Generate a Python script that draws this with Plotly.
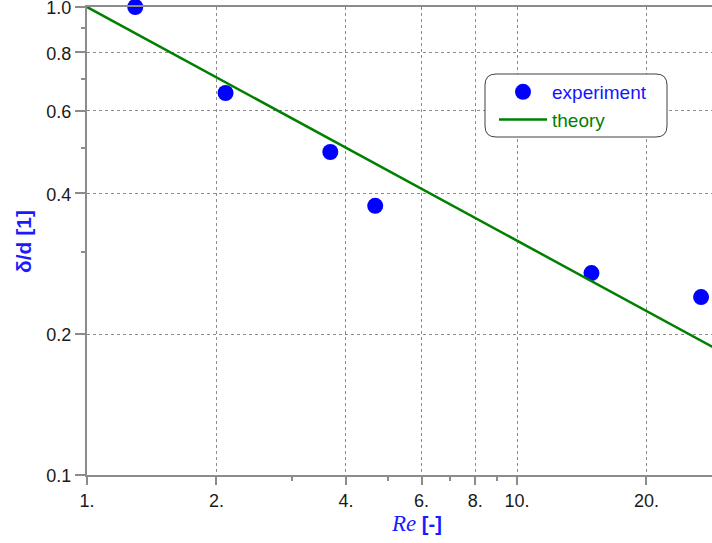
import plotly.graph_objects as go

# experiment data
re_exp = [1.295, 2.10, 3.68, 4.68, 14.9, 26.8]
delta_exp = [1.0, 0.655, 0.490, 0.376, 0.270, 0.240]

# theory line (straight on log-log)
re_theory = [1.0, 30.0]
delta_theory = [1.0, 0.183]

x_tickvals = [1, 2, 4, 6, 8, 10, 20]
x_ticktext = ["1.", "2.", "4.", "6.", "8.", "10.", "20."]
x_minor = [3, 5, 7, 9]
y_tickvals = [0.1, 0.2, 0.4, 0.6, 0.8, 1.0]
y_ticktext = ["0.1", "0.2", "0.4", "0.6", "0.8", "1.0"]
y_minor = [0.3, 0.5, 0.7, 0.9]

W, H = 712, 543
ML, MR, MT, MB = 87, 0, 7, 68
PW, PH = W - ML - MR, H - MT - MB

def px(xp):
    return (xp - ML) / PW

def py(yp):
    return (H - MB - yp) / PH

fig = go.Figure()
fig.add_trace(go.Scatter(
    x=re_exp, y=delta_exp, mode="markers",
    name="<span style='color:#1414ff'>experiment</span>",
    marker=dict(color="#0000ff", size=16, line=dict(width=0)),
    cliponaxis=False,
))
fig.add_trace(go.Scatter(
    x=re_theory, y=delta_theory, mode="lines",
    name="<span style='color:#008000'>theory</span>",
    line=dict(color="#008000", width=2.5),
))

axis_common = dict(
    type="log", showline=True, linecolor="#8c8c8c", linewidth=2,
    ticks="outside", tickcolor="#8c8c8c", tickwidth=1.5,
    showgrid=True, gridcolor="#8c8c8c", gridwidth=1, griddash="dot",
    zeroline=False, tickmode="array", automargin=False,
    ticklabeloverflow="allow",
    tickfont=dict(family="Liberation Sans, Arial", size=18, color="#1a1a1a"),
)

fig.update_xaxes(
    **axis_common, range=[0, 1.4535], tickvals=x_tickvals, ticktext=x_ticktext,
    ticklen=8, mirror=True,
    minor=dict(tickmode="array", tickvals=x_minor, ticks="outside", ticklen=4,
               tickcolor="#8c8c8c", tickwidth=1.5, showgrid=False),
)
fig.update_yaxes(
    **axis_common, range=[-1, 0], tickvals=y_tickvals, ticktext=y_ticktext,
    ticklen=10, ticklabelshift=1,
    minor=dict(tickmode="array", tickvals=y_minor, ticks="outside", ticklen=4,
               tickcolor="#8c8c8c", tickwidth=1.5, showgrid=False),
)

# rounded legend box
x0, x1 = px(485), px(667)
y0, y1 = py(137), py(74)
rx, ry = 11 / PW, 11 / PH
path = (f"M {x0+rx},{y0} L {x1-rx},{y0} Q {x1},{y0} {x1},{y0+ry} "
        f"L {x1},{y1-ry} Q {x1},{y1} {x1-rx},{y1} L {x0+rx},{y1} "
        f"Q {x0},{y1} {x0},{y1-ry} L {x0},{y0+ry} Q {x0},{y0} {x0+rx},{y0} Z")
fig.add_shape(type="path", path=path, xref="paper", yref="paper",
              line=dict(color="#404040", width=1), fillcolor="white", layer="above")

fig.update_layout(
    width=W, height=H,
    margin=dict(l=ML, r=MR, t=MT, b=MB, autoexpand=False),
    paper_bgcolor="white", plot_bgcolor="white",
    showlegend=True,
    legend=dict(x=px(494), y=py(73), xanchor="left", yanchor="top",
                bgcolor="rgba(0,0,0,0)", borderwidth=0, itemwidth=48,
                font=dict(family="Liberation Sans, Arial", size=19)),
    annotations=[
        dict(text="<b>δ/d [1]</b>", xref="paper", yref="paper", x=px(23), y=py(242),
             xanchor="center", yanchor="middle",
             textangle=-90, showarrow=False,
             font=dict(family="Liberation Sans, Arial", size=21, color="#1a1aff")),
        dict(text="<span style='font-family:Liberation Serif;font-size:23px'><i>Re</i></span> <b>[-]</b>",
             xref="paper", yref="paper", x=px(416), y=py(523),
             xanchor="center", yanchor="middle", showarrow=False,
             font=dict(family="Liberation Sans, Arial", size=20, color="#1a1aff")),
    ],
)

fig.write_html("out.html", config={"displayModeBar": False},
               post_script="document.body.style.margin='0px';")
